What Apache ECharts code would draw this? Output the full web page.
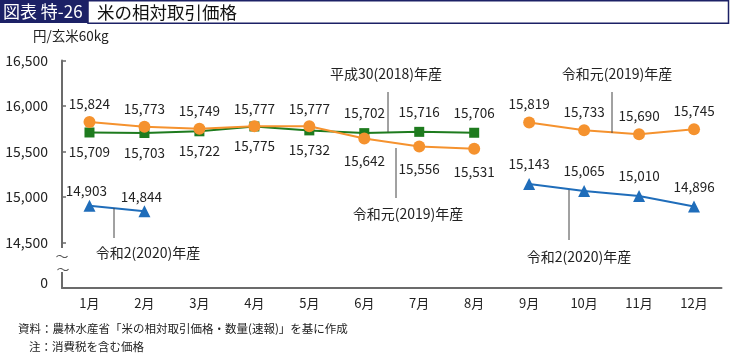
<!DOCTYPE html>
<html>
<head>
<meta charset="utf-8">
<script src="https://cdn.jsdelivr.net/npm/echarts@6/dist/echarts.min.js"></script>
<style>
html,body{margin:0;padding:0;background:#fff;}
#chart{width:730px;height:357px;}
</style>
</head>
<body>
<div id="chart"></div>
<script>
// ---- data ----
const months = ['1月','2月','3月','4月','5月','6月','7月','8月','9月','10月','11月','12月'];
const yTicks = [14000, 14500, 15000, 15500, 16000, 16500];
// 平成30(2018)年産
const h30 = [15709, 15703, 15722, 15775, 15732, 15702, 15716, 15706, null, null, null, null];
// 令和元(2019)年産 (Jan-Aug segment)
const r1a = [15824, 15773, 15749, 15777, 15777, 15642, 15556, 15531, null, null, null, null];
// 令和元(2019)年産 (Sep-Dec segment)
const r1b = [null, null, null, null, null, null, null, null, 15819, 15733, 15690, 15745];
// 令和2(2020)年産 (Jan-Feb segment)
const r2a = [14903, 14844, null, null, null, null, null, null, null, null, null, null];
// 令和2(2020)年産 (Sep-Dec segment)
const r2b = [null, null, null, null, null, null, null, null, 15143, 15065, 15010, 14896];

// label placement (style, kept apart from values)
const h30Pos = ['bottom','bottom','bottom','bottom','bottom','top','top','top'];
const r1aPos = ['top','top','top','top','top','bottom','bottom','bottom'];

const FONT = '"Noto Sans CJK JP", "Noto Sans", sans-serif';
const ORANGE = '#F5922E', GREEN = '#1E7B1E', BLUE = '#1F6DBA', NAVY = '#1C2166';
const fmt = v => v.toLocaleString('en-US');

function items(vals, pos, dTop, dBottom) {
  return vals.map((v, i) => {
    if (v == null) return null;
    const p = pos ? pos[i] : 'top';
    return { value: v, label: { position: p, distance: p === 'top' ? dTop : dBottom } };
  });
}

const labelBase = { show: true, fontFamily: FONT, fontSize: 13.5, color: '#222', formatter: p => fmt(p.value) };

const chart = echarts.init(document.getElementById('chart'), null, { renderer: 'canvas' });

function annot(text, cx, cy, lx, ly1, ly2) {
  return [
    { type: 'text', x: cx, y: cy, z: 50,
      style: { text: text, fontFamily: FONT, fontSize: 14, fill: '#222', align: 'center', verticalAlign: 'middle' } },
    { type: 'line', z: 50, shape: { x1: lx, y1: ly1, x2: lx, y2: ly2 }, style: { stroke: '#444', lineWidth: 1 } }
  ];
}

const graphics = [
  { type: 'rect', z: 40, shape: { x: 0, y: 0, width: 88, height: 23 }, style: { fill: NAVY } },
  { type: 'rect', z: 40, shape: { x: 88, y: 0.75, width: 640.5, height: 22.5 }, style: { fill: '#fff', stroke: NAVY, lineWidth: 1.5 } },
  { type: 'text', z: 41, x: 3, y: 12, style: { text: '図表 特-26', fontFamily: FONT, fontSize: 17, fill: '#fff', verticalAlign: 'middle' } },
  { type: 'text', z: 41, x: 97, y: 12, style: { text: '米の相対取引価格', fontFamily: FONT, fontSize: 17.5, fill: '#111', verticalAlign: 'middle' } },
  { type: 'text', z: 41, x: 33, y: 36, style: { text: '円/玄米60kg', fontFamily: FONT, fontSize: 13.5, fill: '#222', verticalAlign: 'middle' } },
  // axis break
  { type: 'rect', z: 45, shape: { x: 56, y: 248, width: 12, height: 24 }, style: { fill: '#fff' } },
  { type: 'text', z: 46, x: 62, y: 256, style: { text: '〜', fontFamily: FONT, fontSize: 13, fill: '#555', align: 'center', verticalAlign: 'middle' } },
  { type: 'text', z: 46, x: 63, y: 269, style: { text: '〜', fontFamily: FONT, fontSize: 13, fill: '#555', align: 'center', verticalAlign: 'middle' } },
  // footer
  { type: 'text', z: 41, x: 18, y: 329, style: { text: '資料：農林水産省「米の相対取引価格・数量(速報)」を基に作成', fontFamily: FONT, fontSize: 11.5, fill: '#222', verticalAlign: 'middle' } },
  { type: 'text', z: 41, x: 29, y: 347, style: { text: '注：消費税を含む価格', fontFamily: FONT, fontSize: 11.5, fill: '#222', verticalAlign: 'middle' } }
]
.concat(annot('平成30(2018)年産', 386, 74, 388, 92, 132))
.concat(annot('令和元(2019)年産', 408, 214, 396, 148, 198))
.concat(annot('令和元(2019)年産', 617, 74, 612, 92, 133))
.concat(annot('令和2(2020)年産', 579, 257, 569, 190, 240))
.concat(annot('令和2(2020)年産', 148, 253, 114, 208, 238));

const option = {
  animation: false,
  backgroundColor: '#fff',
  textStyle: { fontFamily: FONT },
  grid: { left: 62, right: 8.5, top: 60.5, bottom: 69, containLabel: false },
  xAxis: {
    type: 'category', data: months, boundaryGap: true,
    axisLine: { lineStyle: { color: '#6b6b6b', width: 2 } },
    axisTick: { show: false },
    axisLabel: { color: '#222', fontSize: 13, fontFamily: FONT, margin: 9 }
  },
  yAxis: {
    type: 'value', min: yTicks[0], max: yTicks[yTicks.length - 1], interval: 500,
    splitLine: { show: false },
    axisLine: { show: true, lineStyle: { color: '#6b6b6b', width: 2 } },
    axisTick: { show: true, inside: true, length: 4, lineStyle: { color: '#6b6b6b', width: 1.5 } },
    axisLabel: {
      color: '#222', fontSize: 14, fontFamily: FONT, margin: 14,
      formatter: v => v === yTicks[0] ? '{z|0}' : fmt(v),
      rich: { z: { fontSize: 14, fontFamily: FONT, color: '#222', padding: [0, 0, 10, 0] } }
    }
  },
  graphic: graphics,
  series: [
    { name: '平成30(2018)年産', type: 'line', data: items(h30, h30Pos, 8, 8), connectNulls: false,
      symbol: 'rect', symbolSize: 10, itemStyle: { color: GREEN }, lineStyle: { color: GREEN, width: 2 },
      label: labelBase, z: 3 },
    { name: '令和元(2019)年産', type: 'line', data: items(r1a, r1aPos, 5, 10), connectNulls: false,
      symbol: 'circle', symbolSize: 12, itemStyle: { color: ORANGE }, lineStyle: { color: ORANGE, width: 2 },
      label: labelBase, z: 4 },
    { name: '令和元(2019)年産', type: 'line', data: items(r1b, null, 6, 6), connectNulls: false,
      symbol: 'circle', symbolSize: 12, itemStyle: { color: ORANGE }, lineStyle: { color: ORANGE, width: 2 },
      label: labelBase, z: 4 },
    { name: '令和2(2020)年産', type: 'line', data: items(r2a, null, 2, 2), connectNulls: false,
      symbol: 'triangle', symbolSize: 12, itemStyle: { color: BLUE }, lineStyle: { color: BLUE, width: 2 },
      label: Object.assign({}, labelBase, { offset: [-3, 0] }), z: 4 },
    { name: '令和2(2020)年産', type: 'line', data: items(r2b, null, 7, 7), connectNulls: false,
      symbol: 'triangle', symbolSize: 12, itemStyle: { color: BLUE }, lineStyle: { color: BLUE, width: 2 },
      label: labelBase, z: 4 }
  ]
};
chart.setOption(option);
</script>
</body>
</html>
